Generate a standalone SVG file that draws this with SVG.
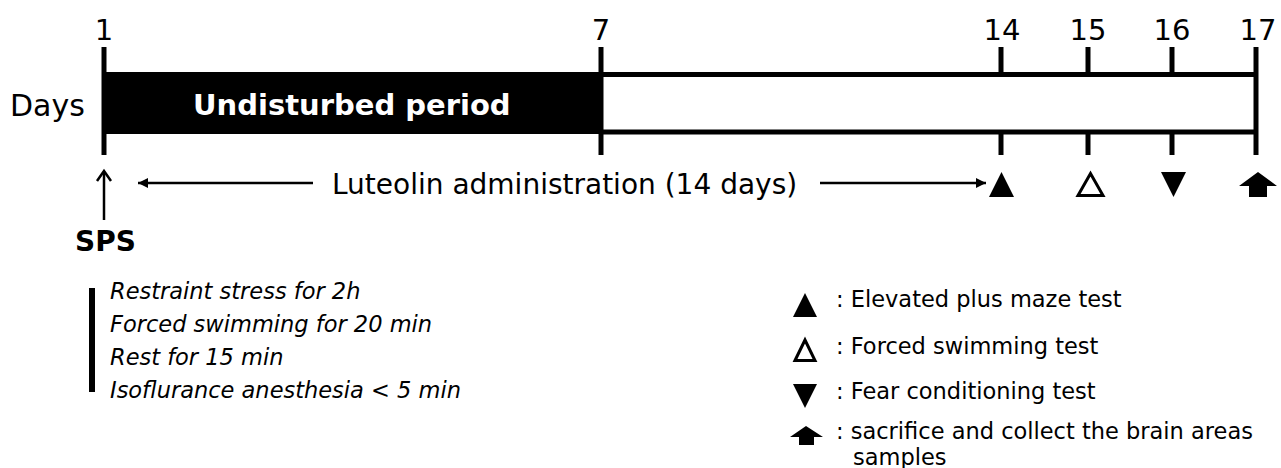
<svg xmlns="http://www.w3.org/2000/svg" width="1281" height="468" viewBox="0 0 1281 468">
<style>
text{font-family:"DejaVu Sans","Verdana",sans-serif;fill:#000}
.num{font-size:29px;text-anchor:middle}
.lbl{font-size:30px}
.it{font-size:22.5px;font-style:italic}
.lg{font-size:22.5px}
.tick{stroke:#000;stroke-width:5;fill:none}
.ln{stroke:#000;stroke-width:2.5;fill:none}
</style>
<defs>
<marker id="ah" viewBox="0 0 10 10" refX="10" refY="5" markerWidth="12" markerHeight="10" markerUnits="userSpaceOnUse" orient="auto">
<path d="M0,0 L10,5 L0,10 Z" fill="#000"/>
</marker>
</defs>
<rect width="1281" height="468" fill="#fff"/>
<g id="timeline">
<rect x="104" y="72" width="497" height="62" fill="#000"/>
<line class="tick" x1="601" y1="74.5" x2="1256" y2="74.5"/>
<line class="tick" x1="601" y1="132" x2="1256" y2="132"/>
<line class="tick" x1="104" y1="47" x2="104" y2="155"/>
<line class="tick" x1="601" y1="47" x2="601" y2="155"/>
<line class="tick" x1="1256" y1="47" x2="1256" y2="155"/>
<line class="tick" x1="1001" y1="47" x2="1001" y2="72"/>
<line class="tick" x1="1001" y1="134" x2="1001" y2="155"/>
<line class="tick" x1="1088" y1="47" x2="1088" y2="72"/>
<line class="tick" x1="1088" y1="134" x2="1088" y2="155"/>
<line class="tick" x1="1172" y1="47" x2="1172" y2="72"/>
<line class="tick" x1="1172" y1="134" x2="1172" y2="155"/>
<text class="num" x="104" y="40">1</text>
<text class="num" x="601" y="40">7</text>
<text class="num" x="1002" y="40">14</text>
<text class="num" x="1088" y="40">15</text>
<text class="num" x="1172" y="40">16</text>
<text class="num" x="1258" y="40">17</text>
<text class="lbl" x="10" y="116">Days</text>
<text x="193" y="115" style="font-size:29px;font-weight:bold;fill:#fff">Undisturbed period</text>
</g>
<g id="connectors">
<line class="ln" x1="104" y1="220" x2="104" y2="172"/>
<polyline class="ln" points="97,181 104,171 111,181"/>
<line class="ln" x1="313" y1="183" x2="138" y2="183" marker-end="url(#ah)"/>
<line class="ln" x1="820" y1="183" x2="986" y2="183" marker-end="url(#ah)"/>
</g>
<g id="luteolin">
<text x="332" y="194" style="font-size:28px">Luteolin administration (14 days)</text>
</g>
<g id="markers">
<polygon points="989,197 1001.5,172 1014,197" fill="#000"/>
<polygon points="1078,195.5 1090.5,173.5 1103,195.5" fill="none" stroke="#000" stroke-width="3"/>
<polygon points="1161,172 1186,172 1173.5,197" fill="#000"/>
<path d="M1239,186 L1258,172 L1277,186 L1267,186 L1267,197 L1249,197 L1249,186 Z" fill="#000"/>
</g>
<g id="sps">
<text x="75" y="251" style="font-size:28px;font-weight:bold">SPS</text>
<rect x="89" y="288" width="6" height="104" fill="#000"/>
<text class="it" x="110" y="299">Restraint stress for 2h</text>
<text class="it" x="110" y="332">Forced swimming for 20 min</text>
<text class="it" x="110" y="365">Rest for 15 min</text>
<text class="it" x="110" y="398">Isoflurance anesthesia &lt; 5 min</text>
</g>
<g id="legend">
<polygon points="793,317 805,293 817,317" fill="#000"/>
<text class="lg" x="836" y="307">: Elevated plus maze test</text>
<polygon points="795,360.5 805,340 815,360.5" fill="none" stroke="#000" stroke-width="3"/>
<text class="lg" x="836" y="354">: Forced swimming test</text>
<polygon points="793,384 817,384 805,408" fill="#000"/>
<text class="lg" x="836" y="399">: Fear conditioning test</text>
<path d="M790,437 L806,426 L823,437 L814,437 L814,445 L799,445 L799,437 Z" fill="#000"/>
<text class="lg" x="836" y="439">: sacrifice and collect the brain areas</text>
<text class="lg" x="853" y="465">samples</text>
</g>
</svg>
